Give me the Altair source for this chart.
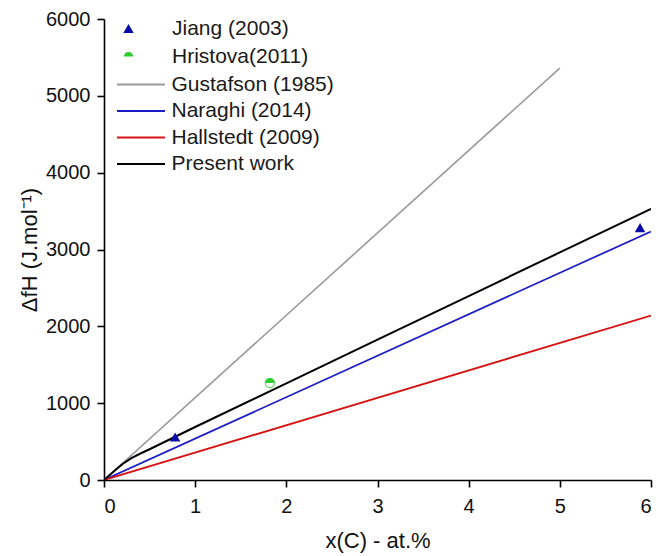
import altair as alt
import pandas as pd

# ---- data ----
gus_x = [0, 5.0]
gus_y = [0, 5360]
nar_x = [0, 6.0]
nar_y = [0, 3235]
hal_x = [0, 6.0]
hal_y = [0, 2140]
pre_x = [0, 0.1, 0.2, 0.3, 0.4, 0.5, 1, 2, 3, 4, 5, 6]
pre_y = [0, 105, 205, 285, 345, 400, 690, 1258, 1826, 2394, 2962, 3530]

jiang_x = [0.78, 5.88]
jiang_y = [560, 3285]
hri_x = [1.82]
hri_y = [1263]

line_names = ["Gustafson (1985)", "Naraghi (2014)", "Hallstedt (2009)", "Present work"]
line_colors = ["#9a9a9a", "#1c1cc4", "#d41414", "#000000"]
line_widths = [1.6, 2.0, 1.6, 2.4]
point_names = ["Jiang (2003)", "Hristova(2011)"]
point_colors = ["#0a0aa6", "#2ecc2e"]

x_ticks = [i * 0.5 for i in range(13)]
y_ticks = [i * 500 for i in range(13)]

rows = []
for name, xs, ys in zip(line_names, [gus_x, nar_x, hal_x, pre_x], [gus_y, nar_y, hal_y, pre_y]):
    for i, (a, b) in enumerate(zip(xs, ys)):
        rows.append({"x": a, "y": b, "model": name, "o": i})
lines_df = pd.DataFrame(rows)

prow = []
for name, xs, ys in zip(point_names, [jiang_x, hri_x], [jiang_y, hri_y]):
    for a, b in zip(xs, ys):
        prow.append({"x": a, "y": b, "source": name})
pts_df = pd.DataFrame(prow)
hri_df = pts_df[pts_df["source"] == "Hristova(2011)"]

FONT = "Liberation Sans"
half_circle = "M-1,0A1,1,0,0,1,1,0Z"
long_stroke = "M-2.667,0H2.667"

xscale = alt.Scale(domain=[0, 6], nice=False)
yscale = alt.Scale(domain=[0, 6000], nice=False)
xaxis = alt.Axis(values=x_ticks, format="d",
                 labelExpr="datum.value % 1 === 0 ? datum.label : ''",
                 labelPadding=9, title="x(C) - at.%", titlePadding=14)
yaxis = alt.Axis(values=y_ticks, format="d",
                 labelExpr="datum.value % 1000 === 0 ? datum.label : ''",
                 labelPadding=7, title="ΔfH (J.mol⁻¹)", titlePadding=4)

lines = alt.Chart(lines_df).mark_line(clip=True).encode(
    x=alt.X("x:Q", scale=xscale, axis=xaxis),
    y=alt.Y("y:Q", scale=yscale, axis=yaxis),
    order="o:Q",
    color=alt.Color("model:N", scale=alt.Scale(domain=line_names, range=line_colors),
                    legend=alt.Legend(orient="none", legendX=12, legendY=55, title=None,
                                      symbolSize=324, symbolStrokeWidth=2, symbolType=long_stroke,
                                      symbolOffset=14.5, labelOffset=20, rowPadding=4.5, padding=0,
                                      labelFontSize=21, labelFont=FONT, labelColor="#1a1a1a",
                                      labelLimit=300)),
    strokeWidth=alt.StrokeWidth("model:N", scale=alt.Scale(domain=line_names, range=line_widths),
                                legend=None),
)

hri_base = alt.Chart(hri_df).mark_point(filled=True, fill="white", stroke="#2ecc2e",
                                        strokeWidth=1.3, size=85, shape="circle").encode(
    x="x:Q", y="y:Q")

pts = alt.Chart(pts_df).mark_point(filled=True, opacity=1).encode(
    x="x:Q", y="y:Q",
    color=alt.Color("source:N", scale=alt.Scale(domain=point_names, range=point_colors),
                    legend=alt.Legend(orient="none", legendX=14, legendY=-1, title=None,
                                      symbolSize=110, labelOffset=33, rowPadding=6, padding=0,
                                      labelFontSize=21, labelFont=FONT, labelColor="#1a1a1a",
                                      symbolOpacity=1, labelLimit=300)),
    shape=alt.Shape("source:N", scale=alt.Scale(domain=point_names, range=["triangle-up", half_circle])),
    size=alt.Size("source:N", scale=alt.Scale(domain=point_names, range=[110, 85]), legend=None),
)

chart = alt.layer(lines, hri_base, pts).resolve_scale(
    color="independent", shape="independent", size="independent"
).properties(
    width=547, height=461,
    autosize=alt.AutoSizeParams(type="none"),
    padding={"left": 104, "top": 19, "right": 8, "bottom": 76},
    background="white",
).configure_view(stroke=None).configure_axis(
    grid=False, domainColor="#000", domainWidth=1.6, tickColor="#000", tickWidth=1.6, tickSize=7,
    labelFont=FONT, labelFontSize=20, labelColor="#111",
    titleFont=FONT, titleFontSize=22, titleFontWeight="normal", titleColor="#111",
)

chart.save("out.html", embed_options={"renderer": "svg", "actions": False})
